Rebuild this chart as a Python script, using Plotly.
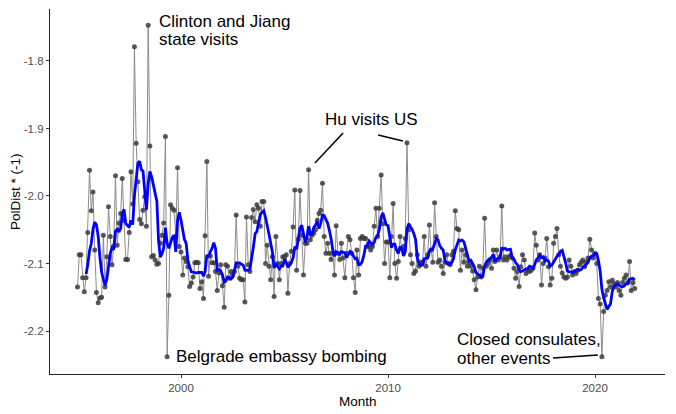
import plotly.graph_objects as go
import pandas as pd

# monthly PolDist * (-1), Jan 1995 - Dec 2021, one row per year
poldist = [
    -2.135, -2.087, -2.087, -2.121, -2.142, -2.121, -2.054, -1.962, -2.022, -1.994, -2.080, -2.143,  # 1995
    -2.158, -2.151, -2.150, -2.058, -2.135, -2.090, -2.016, -2.060, -2.102, -2.074, -1.970, -2.073,  # 1996
    -2.040, -2.026, -1.974, -2.036, -2.094, -2.094, -2.054, -1.964, -2.012, -1.779, -1.922, -1.979,  # 1997
    -2.035, -2.041, -2.021, -2.001, -2.045, -1.747, -1.926, -2.090, -2.088, -2.095, -2.101, -2.100,  # 1998
    -2.070, -2.058, -2.040, -1.912, -2.238, -2.147, -2.013, -2.018, -2.021, -2.060, -1.958, -2.075,  # 1999
    -2.083, -2.117, -2.092, -2.097, -2.105, -2.134, -2.129, -2.120, -2.099, -2.098, -2.099, -2.137,  # 2000
    -2.127, -2.152, -2.059, -1.949, -2.119, -2.089, -2.099, -2.099, -2.112, -2.140, -2.114, -2.102,  # 2001
    -2.133, -2.165, -2.102, -2.104, -2.122, -2.112, -2.117, -2.112, -2.028, -2.104, -2.122, -2.124,  # 2002
    -2.124, -2.157, -2.031, -2.102, -2.112, -2.032, -2.020, -2.038, -2.013, -2.018, -2.045, -2.008,  # 2003
    -2.008, -2.100, -2.073, -2.104, -2.124, -2.090, -2.149, -2.060, -2.100, -2.124, -2.100, -2.090,  # 2004
    -2.090, -2.087, -2.144, -2.100, -2.082, -2.046, -1.991, -2.110, -2.064, -1.992, -2.058, -2.117,  # 2005
    -2.070, -2.070, -1.961, -2.065, -2.058, -2.055, -2.050, -2.036, -2.026, -2.021, -1.981, -2.060,  # 2006
    -2.085, -2.070, -2.085, -2.094, -2.085, -2.117, -2.044, -2.085, -2.094, -2.070, -2.092, -2.121,  # 2007
    -2.085, -2.060, -2.065, -2.085, -2.121, -2.143, -2.080, -2.117, -2.063, -2.060, -2.063, -2.063,  # 2008
    -2.075, -2.075, -2.080, -2.075, -2.045, -2.018, -2.060, -2.018, -1.969, -2.041, -2.100, -2.068,  # 2009
    -2.068, -2.121, -2.060, -2.011, -2.100, -2.122, -2.097, -2.060, -2.078, -2.075, -2.063, -1.921,  # 2010
    -2.050, -2.087, -2.100, -2.115, -2.111, -2.087, -2.104, -2.098, -2.098, -2.060, -2.104, -2.087,  # 2011
    -2.043, -2.080, -2.098, -2.010, -2.060, -2.098, -2.095, -2.104, -2.115, -2.098, -2.087, -2.100,  # 2012
    -2.102, -2.087, -2.082, -2.022, -2.048, -2.050, -2.110, -2.080, -2.098, -2.087, -2.104, -2.098,  # 2013
    -2.104, -2.111, -2.124, -2.139, -2.120, -2.104, -2.120, -2.107, -2.033, -2.104, -2.100, -2.095,  # 2014
    -2.107, -2.080, -2.097, -2.080, -2.095, -2.090, -2.015, -2.095, -2.090, -2.095, -2.090, -2.088,  # 2015
    -2.092, -2.107, -2.122, -2.112, -2.134, -2.105, -2.087, -2.095, -2.115, -2.110, -2.112, -2.110,  # 2016
    -2.107, -2.055, -2.073, -2.095, -2.087, -2.132, -2.100, -2.092, -2.063, -2.105, -2.132, -2.122,  # 2017
    -2.070, -2.060, -2.048, -2.087, -2.104, -2.114, -2.120, -2.122, -2.120, -2.095, -2.104, -2.117,  # 2018
    -2.112, -2.115, -2.110, -2.102, -2.098, -2.095, -2.105, -2.098, -2.092, -2.064, -2.080, -2.092,  # 2019
    -2.085, -2.100, -2.152, -2.160, -2.238, -2.171, -2.147, -2.140, -2.127, -2.135, -2.125, -2.130,  # 2020
    -2.135, -2.128, -2.140, -2.147, -2.128, -2.122, -2.117, -2.128, -2.097, -2.140, -2.128, -2.137,  # 2021
]
months = pd.date_range("1995-01-01", periods=len(poldist), freq="MS")

y_ticks = [-2.2, -2.1, -2.0, -1.9, -1.8]
y_labels = ["-2.2", "-2.1", "-2.0", "-1.9", "-1.8"]
x_ticks = ["2000-01-01", "2010-01-01", "2020-01-01"]
x_labels = ["2000", "2010", "2020"]

# 6-month trailing average (blue line)
smooth = pd.Series(poldist).rolling(6).mean()


def yr(f):
    """fractional year -> timestamp"""
    y = int(f)
    start = pd.Timestamp(y, 1, 1)
    return start + (pd.Timestamp(y + 1, 1, 1) - start) * (f - y)


FONT = "Liberation Sans, Arial, sans-serif"

fig = go.Figure()
fig.add_trace(go.Scatter(
    x=months, y=poldist, mode="lines+markers",
    line=dict(color="#8c8c8c", width=1),
    marker=dict(size=5, color="rgba(60,60,60,0.85)"),
    showlegend=False,
))
fig.add_trace(go.Scatter(
    x=months, y=smooth, mode="lines",
    line=dict(color="#0000ff", width=2.8),
    showlegend=False,
))

# leader lines for the annotations
segments = [
    (2007.83, -1.9067, 2006.47, -1.951),
    (2009.52, -1.9096, 2010.72, -1.9185),
    (2017.97, -2.2400, 2020.14, -2.2356),
]
for x0, y0, x1, y1 in segments:
    fig.add_shape(type="line", xref="x", yref="y",
                  x0=yr(x0), y0=y0, x1=yr(x1), y1=y1,
                  line=dict(color="black", width=1.5))

labels = [
    ("Clinton and Jiang", 1998.85, -1.7422),
    ("state visits", 1998.85, -1.7689),
    ("Hu visits US", 2006.86, -1.8874),
    ("Belgrade embassy bombing", 1999.68, -2.2385),
    ("Closed consulates,", 2013.22, -2.2133),
    ("other events", 2013.22, -2.2400),
]
for txt, fx, fy in labels:
    fig.add_annotation(x=yr(fx), y=fy, text=txt, showarrow=False,
                       xanchor="left", yanchor="middle",
                       font=dict(size=17, color="black", family=FONT))

# axis titles placed by hand
fig.add_annotation(xref="paper", yref="paper", x=0.5008, y=-0.0767,
                   text="Month", showarrow=False, xanchor="center", yanchor="middle",
                   font=dict(size=13.5, color="black", family=FONT))
fig.add_annotation(xref="paper", yref="paper", x=-0.0569, y=0.4986,
                   text="PolDist * (-1)", textangle=-90, showarrow=False,
                   xanchor="center", yanchor="middle",
                   font=dict(size=13.5, color="black", family=FONT))

fig.update_layout(
    width=676, height=414,
    margin=dict(l=50, r=11, t=9, b=40),
    paper_bgcolor="white", plot_bgcolor="white",
    font=dict(family=FONT),
    xaxis=dict(
        type="date", range=[yr(1993.67), yr(2023.38)], automargin=False,
        showline=True, linecolor="#222222", linewidth=1.3,
        ticks="outside", ticklen=3, tickcolor="#333333",
        tickvals=x_ticks, ticktext=x_labels,
        tickfont=dict(size=11.5, color="#4d4d4d"),
        showgrid=False, zeroline=False,
    ),
    yaxis=dict(
        range=[-2.2637, -1.723], automargin=False,
        showline=True, linecolor="#222222", linewidth=1.3,
        ticks="outside", ticklen=3, tickcolor="#333333",
        tickvals=y_ticks, ticktext=y_labels,
        tickfont=dict(size=11.5, color="#4d4d4d"),
        showgrid=False, zeroline=False,
    ),
)

# the page's default body margin would push the 676x414 figure off the window
fig.write_html("out.html", config={"displayModeBar": False},
               post_script="document.body.style.margin='0';")
